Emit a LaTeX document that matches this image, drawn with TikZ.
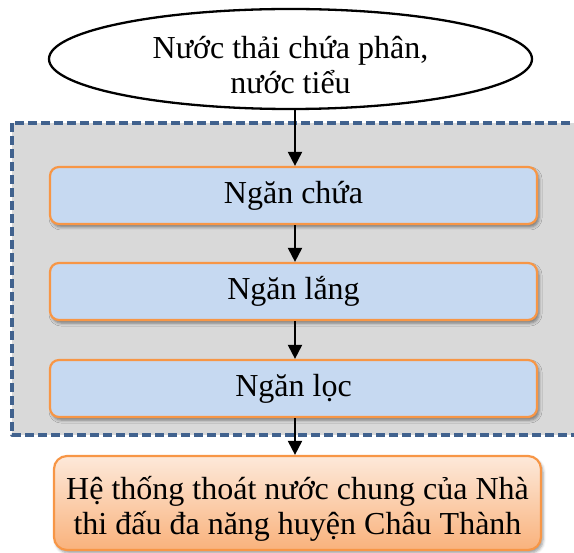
\documentclass[tikz,border=0pt]{standalone}
\usepackage{fontspec}
\setmainfont{Liberation Serif}
\usetikzlibrary{shapes.geometric,arrows.meta,shadows.blur}
\definecolor{panelgray}{HTML}{D9D9D9}
\definecolor{panelline}{HTML}{41628E}
\definecolor{stepfill}{HTML}{C6D9F1}
\definecolor{stepline}{HTML}{F79646}
\definecolor{outtop}{HTML}{FDE9DA}
\definecolor{outbot}{HTML}{F9B27C}
\newcommand{\firstlinestrut}{\rule{0pt}{34pt}}
\tikzset{
  flowtext/.style={font=\fontsize{32}{35}\selectfont, align=center, text=black},
  stepbox/.style={flowtext, draw=stepline, line width=2.2pt, fill=stepfill,
    rounded corners=9pt, minimum width=487pt, minimum height=57pt, inner sep=0pt,
    blur shadow={shadow xshift=2pt, shadow yshift=-3pt, shadow blur radius=3pt, shadow opacity=45}},
  outbox/.style={flowtext, draw=stepline, line width=2.2pt, top color=outtop, bottom color=outbot,
    rounded corners=13pt, minimum width=487pt, minimum height=94pt, inner sep=0pt,
    blur shadow={shadow xshift=2pt, shadow yshift=-3pt, shadow blur radius=3pt, shadow opacity=40}},
  srcshape/.style={flowtext, ellipse, draw=black, line width=2.3pt, fill=white,
    minimum width=483pt, minimum height=100pt, inner sep=0pt},
  flowarrow/.style={draw=black, line width=2.1pt, -{Triangle[length=14pt,width=14pt]}}
}
\begin{document}
\begin{tikzpicture}[x=1pt, y=-1pt]
  \useasboundingbox (0,0) rectangle (574,553);
  \clip (0,0) rectangle (574,553);

  % grey treatment panel with dashed outline
  \draw[fill=panelgray, draw=panelline, line width=3.2pt, dash pattern=on 9pt off 4pt, line join=round]
    (12,123) rectangle (590,435);

  % source of waste water
  \node[srcshape] (src) at (290.5,59) {\firstlinestrut Nước thải chứa phân,\\nước tiểu};

  % chambers of the tank
  \node[stepbox] (b1) at (293.5,195.5) {Ngăn chứa};
  \node[stepbox] (b2) at (293.5,291.5) {Ngăn lắng};
  \node[stepbox] (b3) at (293.5,388.5) {Ngăn lọc};

  % discharge point
  \node[outbox] (out) at (297.5,503) {\firstlinestrut Hệ thống thoát nước chung của Nhà\\thi đấu đa năng huyện Châu Thành};

  % flow arrows along one vertical line
  \coordinate (ax) at (295,0);
  \draw[flowarrow] (src.south -| ax) -- (b1.north -| ax);
  \draw[flowarrow] (b1.south -| ax) -- (b2.north -| ax);
  \draw[flowarrow] (b2.south -| ax) -- (b3.north -| ax);
  \draw[flowarrow] (b3.south -| ax) -- (out.north -| ax);
\end{tikzpicture}
\end{document}
